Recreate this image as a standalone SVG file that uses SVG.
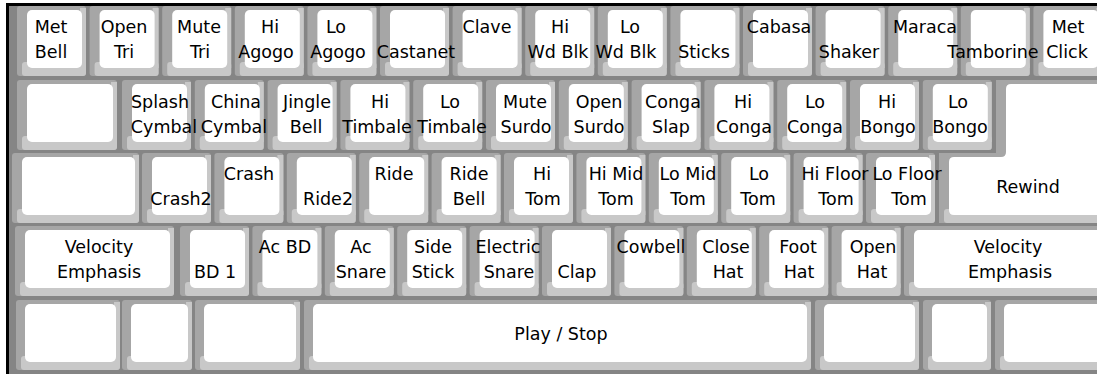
<svg xmlns="http://www.w3.org/2000/svg" xmlns:xlink="http://www.w3.org/1999/xlink" width="1097" height="374" viewBox="0 0 1097 374">
<style>
.bd{fill:#a6a6a6}
.bv{fill:#c8c8c8}
.fc{fill:#ffffff}
text{font-family:"DejaVu Sans","Liberation Sans",sans-serif;font-size:17.5px;fill:#000;text-anchor:middle}
</style>
<defs>
<g id="key">
<rect class="bd" x="0" y="0" width="69" height="70" rx="3"/>
<rect class="bv" x="5" y="56" width="64" height="14" rx="3"/>
<rect class="bv" x="63" y="2" width="6" height="60"/>
<rect class="fc" x="10" y="4" width="55" height="58" rx="5"/>
</g>
</defs>
<rect x="0" y="0" width="1097" height="374" fill="#ffffff"/>
<rect x="6" y="3" width="1091" height="371" fill="#858585"/>
<rect x="6" y="3" width="1091" height="3" fill="#000"/>
<rect x="6" y="3" width="3" height="371" fill="#000"/>

<g id="keys">
<!-- Row 1 -->
<g id="met-bell"><use href="#key" x="17" y="6"/></g>
<g id="open-tri"><use href="#key" x="89.6" y="6"/></g>
<g id="mute-tri"><use href="#key" x="162.2" y="6"/></g>
<g id="hi-agogo"><use href="#key" x="234.8" y="6"/></g>
<g id="lo-agogo"><use href="#key" x="307.4" y="6"/></g>
<g id="castanet"><use href="#key" x="380" y="6"/></g>
<g id="clave"><use href="#key" x="452.6" y="6"/></g>
<g id="hi-wd-blk"><use href="#key" x="525.2" y="6"/></g>
<g id="lo-wd-blk"><use href="#key" x="597.8" y="6"/></g>
<g id="sticks"><use href="#key" x="670.4" y="6"/></g>
<g id="cabasa"><use href="#key" x="743" y="6"/></g>
<g id="shaker"><use href="#key" x="815.6" y="6"/></g>
<g id="maraca"><use href="#key" x="888.2" y="6"/></g>
<g id="tamborine"><use href="#key" x="960.8" y="6"/></g>
<g id="met-click"><use href="#key" x="1033.4" y="6"/></g>

<!-- Row 2 -->
<g id="tab"><rect class="bd" x="17" y="80" width="100" height="70" rx="3"/><rect class="bv" x="22" y="136" width="95" height="14" rx="3"/><rect class="bv" x="111" y="82" width="6" height="60"/><rect class="fc" x="27" y="84" width="86" height="58" rx="5"/></g>
<g id="splash-cymbal"><use href="#key" x="122" y="80"/></g>
<g id="china-cymbal"><use href="#key" x="194.8" y="80"/></g>
<g id="jingle-bell"><use href="#key" x="267.6" y="80"/></g>
<g id="hi-timbale"><use href="#key" x="340.4" y="80"/></g>
<g id="lo-timbale"><use href="#key" x="413.2" y="80"/></g>
<g id="mute-surdo"><use href="#key" x="486" y="80"/></g>
<g id="open-surdo"><use href="#key" x="558.8" y="80"/></g>
<g id="conga-slap"><use href="#key" x="631.6" y="80"/></g>
<g id="hi-conga"><use href="#key" x="704.4" y="80"/></g>
<g id="lo-conga"><use href="#key" x="777.2" y="80"/></g>
<g id="hi-bongo"><use href="#key" x="850" y="80"/></g>
<g id="lo-bongo"><use href="#key" x="922.8" y="80"/></g>

<!-- Return / Rewind (L-shaped, rows 2-3) -->
<g id="rewind">
<path class="bd" d="M996,80 H1100 V223 H939 V153 H996 Z"/>
<rect class="bv" x="944" y="209" width="156" height="14" rx="3"/>
<path class="fc" d="M1011,84 H1100 V215 H954 Q949,215 949,210 V162 Q949,157 954,157 H1001 Q1006,157 1006,152 V89 Q1006,84 1011,84 Z"/>
</g>

<!-- Row 3 -->
<g id="caps"><rect class="bd" x="12" y="153" width="127" height="70" rx="3"/><rect class="bv" x="17" y="209" width="122" height="14" rx="3"/><rect class="bv" x="133" y="155" width="6" height="60"/><rect class="fc" x="22" y="157" width="113" height="58" rx="5"/></g>
<g id="crash2"><use href="#key" x="142" y="153"/></g>
<g id="crash"><use href="#key" x="214.4" y="153"/></g>
<g id="ride2"><use href="#key" x="286.8" y="153"/></g>
<g id="ride"><use href="#key" x="359.2" y="153"/></g>
<g id="ride-bell"><use href="#key" x="431.6" y="153"/></g>
<g id="hi-tom"><use href="#key" x="504" y="153"/></g>
<g id="hi-mid-tom"><use href="#key" x="576.4" y="153"/></g>
<g id="lo-mid-tom"><use href="#key" x="648.8" y="153"/></g>
<g id="lo-tom"><use href="#key" x="721.2" y="153"/></g>
<g id="hi-floor-tom"><use href="#key" x="793.6" y="153"/></g>
<g id="lo-floor-tom"><use href="#key" x="866" y="153"/></g>

<!-- Row 4 -->
<g id="velocity-left"><rect class="bd" x="15" y="226" width="159" height="70" rx="3"/><rect class="bv" x="20" y="282" width="154" height="14" rx="3"/><rect class="bv" x="168" y="228" width="6" height="60"/><rect class="fc" x="25" y="230" width="145" height="58" rx="5"/></g>
<g id="bd-1"><use href="#key" x="180" y="226"/></g>
<g id="ac-bd"><use href="#key" x="252.4" y="226"/></g>
<g id="ac-snare"><use href="#key" x="324.8" y="226"/></g>
<g id="side-stick"><use href="#key" x="397.2" y="226"/></g>
<g id="electric-snare"><use href="#key" x="469.6" y="226"/></g>
<g id="clap"><use href="#key" x="542" y="226"/></g>
<g id="cowbell"><use href="#key" x="614.4" y="226"/></g>
<g id="close-hat"><use href="#key" x="686.8" y="226"/></g>
<g id="foot-hat"><use href="#key" x="759.2" y="226"/></g>
<g id="open-hat"><use href="#key" x="831.6" y="226"/></g>
<g id="velocity-right"><rect class="bd" x="904" y="226" width="200" height="70" rx="3"/><rect class="bv" x="909" y="282" width="195" height="14" rx="3"/><rect class="fc" x="914" y="230" width="190" height="58" rx="5"/></g>

<!-- Row 5 -->
<g id="b1"><rect class="bd" x="16" y="300" width="104" height="70" rx="3"/><rect class="bv" x="21" y="356" width="99" height="14" rx="3"/><rect class="bv" x="114" y="302" width="6" height="60"/><rect class="fc" x="25" y="304" width="91" height="58" rx="5"/></g>
<g id="b2"><rect class="bd" x="122" y="300" width="70" height="70" rx="3"/><rect class="bv" x="127" y="356" width="65" height="14" rx="3"/><rect class="bv" x="186" y="302" width="6" height="60"/><rect class="fc" x="131" y="304" width="57" height="58" rx="5"/></g>
<g id="b3"><rect class="bd" x="195" y="300" width="105" height="70" rx="3"/><rect class="bv" x="200" y="356" width="100" height="14" rx="3"/><rect class="bv" x="294" y="302" width="6" height="60"/><rect class="fc" x="204" y="304" width="92" height="58" rx="5"/></g>
<g id="play-stop"><rect class="bd" x="304" y="300" width="507" height="70" rx="3"/><rect class="bv" x="309" y="356" width="502" height="14" rx="3"/><rect class="bv" x="805" y="302" width="6" height="60"/><rect class="fc" x="313" y="304" width="494" height="58" rx="5"/></g>
<g id="b5"><rect class="bd" x="815" y="300" width="104" height="70" rx="3"/><rect class="bv" x="820" y="356" width="99" height="14" rx="3"/><rect class="bv" x="913" y="302" width="6" height="60"/><rect class="fc" x="824" y="304" width="91" height="58" rx="5"/></g>
<g id="b6"><rect class="bd" x="923" y="300" width="68" height="70" rx="3"/><rect class="bv" x="928" y="356" width="63" height="14" rx="3"/><rect class="bv" x="985" y="302" width="6" height="60"/><rect class="fc" x="932" y="304" width="55" height="58" rx="5"/></g>
<g id="b7"><rect class="bd" x="995" y="300" width="110" height="70" rx="3"/><rect class="bv" x="1000" y="356" width="105" height="14" rx="3"/><rect class="fc" x="1004" y="304" width="100" height="58" rx="5"/></g>
</g>

<g id="labels">
<g id="t-met-bell"><text x="51" y="33">Met</text><text x="51" y="58">Bell</text></g>
<g id="t-open-tri"><text x="124" y="33">Open</text><text x="124" y="58">Tri</text></g>
<g id="t-mute-tri"><text x="199" y="33">Mute</text><text x="200" y="58">Tri</text></g>
<g id="t-hi-agogo"><text x="270" y="33">Hi</text><text x="266" y="58">Agogo</text></g>
<g id="t-lo-agogo"><text x="336" y="33">Lo</text><text x="338" y="58">Agogo</text></g>
<g id="t-castanet"><text x="416" y="58">Castanet</text></g>
<g id="t-clave"><text x="487" y="33">Clave</text></g>
<g id="t-hi-wd-blk"><text x="560" y="33">Hi</text><text x="558" y="58">Wd Blk</text></g>
<g id="t-lo-wd-blk"><text x="630" y="33">Lo</text><text x="626" y="58">Wd Blk</text></g>
<g id="t-sticks"><text x="704" y="58">Sticks</text></g>
<g id="t-cabasa"><text x="779" y="33">Cabasa</text></g>
<g id="t-shaker"><text x="849" y="58">Shaker</text></g>
<g id="t-maraca"><text x="925" y="33">Maraca</text></g>
<g id="t-tamborine"><text x="993" y="58">Tamborine</text></g>
<g id="t-met-click"><text x="1068" y="33">Met</text><text x="1067" y="58">Click</text></g>

<g id="t-splash-cymbal"><text x="160" y="108">Splash</text><text x="164" y="133">Cymbal</text></g>
<g id="t-china-cymbal"><text x="236" y="108">China</text><text x="234" y="133">Cymbal</text></g>
<g id="t-jingle-bell"><text x="307" y="108">Jingle</text><text x="306" y="133">Bell</text></g>
<g id="t-hi-timbale"><text x="380" y="108">Hi</text><text x="377" y="133">Timbale</text></g>
<g id="t-lo-timbale"><text x="450" y="108">Lo</text><text x="452" y="133">Timbale</text></g>
<g id="t-mute-surdo"><text x="525" y="108">Mute</text><text x="526" y="133">Surdo</text></g>
<g id="t-open-surdo"><text x="599" y="108">Open</text><text x="599" y="133">Surdo</text></g>
<g id="t-conga-slap"><text x="673" y="108">Conga</text><text x="671" y="133">Slap</text></g>
<g id="t-hi-conga"><text x="743" y="108">Hi</text><text x="744" y="133">Conga</text></g>
<g id="t-lo-conga"><text x="815" y="108">Lo</text><text x="815" y="133">Conga</text></g>
<g id="t-hi-bongo"><text x="887" y="108">Hi</text><text x="888" y="133">Bongo</text></g>
<g id="t-lo-bongo"><text x="958" y="108">Lo</text><text x="960" y="133">Bongo</text></g>

<g id="t-crash2"><text x="181" y="205">Crash2</text></g>
<g id="t-crash"><text x="249" y="180">Crash</text></g>
<g id="t-ride2"><text x="328" y="205">Ride2</text></g>
<g id="t-ride"><text x="394" y="180">Ride</text></g>
<g id="t-ride-bell"><text x="469" y="180">Ride</text><text x="469" y="205">Bell</text></g>
<g id="t-hi-tom"><text x="542" y="180">Hi</text><text x="543" y="205">Tom</text></g>
<g id="t-hi-mid-tom"><text x="616" y="180">Hi Mid</text><text x="616" y="205">Tom</text></g>
<g id="t-lo-mid-tom"><text x="688" y="180">Lo Mid</text><text x="688" y="205">Tom</text></g>
<g id="t-lo-tom"><text x="759" y="180">Lo</text><text x="758" y="205">Tom</text></g>
<g id="t-hi-floor-tom"><text x="835" y="180">Hi Floor</text><text x="836" y="205">Tom</text></g>
<g id="t-lo-floor-tom"><text x="907" y="180">Lo Floor</text><text x="909" y="205">Tom</text></g>
<g id="t-rewind"><text x="1028" y="193">Rewind</text></g>

<g id="t-velocity-left"><text x="99" y="253">Velocity</text><text x="99" y="278">Emphasis</text></g>
<g id="t-bd-1"><text x="215" y="278">BD 1</text></g>
<g id="t-ac-bd"><text x="285" y="253">Ac BD</text></g>
<g id="t-ac-snare"><text x="361" y="253">Ac</text><text x="361" y="278">Snare</text></g>
<g id="t-side-stick"><text x="433" y="253">Side</text><text x="433" y="278">Stick</text></g>
<g id="t-electric-snare"><text x="508" y="253">Electric</text><text x="509" y="278">Snare</text></g>
<g id="t-clap"><text x="577" y="278">Clap</text></g>
<g id="t-cowbell"><text x="651" y="253">Cowbell</text></g>
<g id="t-close-hat"><text x="726" y="253">Close</text><text x="728" y="278">Hat</text></g>
<g id="t-foot-hat"><text x="798" y="253">Foot</text><text x="799" y="278">Hat</text></g>
<g id="t-open-hat"><text x="873" y="253">Open</text><text x="872" y="278">Hat</text></g>
<g id="t-velocity-right"><text x="1008" y="253">Velocity</text><text x="1010" y="278">Emphasis</text></g>
<g id="t-play-stop"><text x="561" y="340">Play / Stop</text></g>
</g>
<g id="connectors"></g>
</svg>
